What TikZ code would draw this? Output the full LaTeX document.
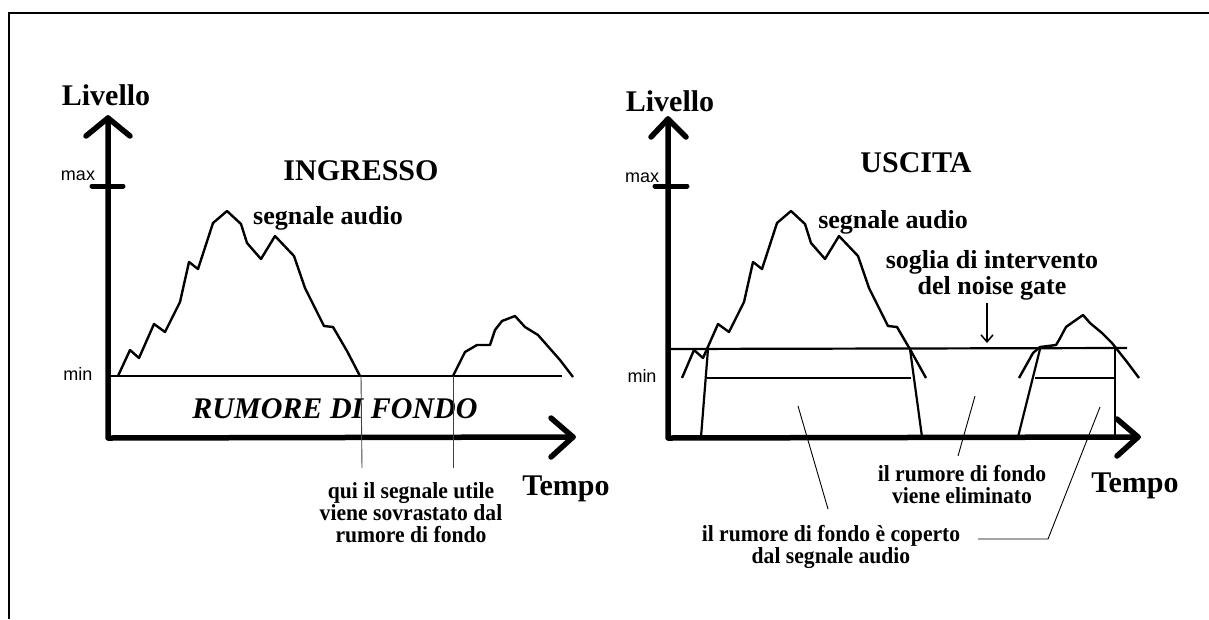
\documentclass[tikz,border=0pt]{standalone}
\usepackage{fontspec}
\setmainfont{Liberation Serif}
\newfontfamily\labsf{Liberation Sans}
\newfontfamily\condserif[FakeStretch=0.94]{Liberation Serif}
\usetikzlibrary{arrows.meta}
\begin{document}
\begin{tikzpicture}[x=1pt,y=-1pt,
  axisline/.style={line width=5.5pt, line cap=round, line join=round},
  tickline/.style={line width=5pt, line cap=round},
  sig/.style={line width=2.4pt, line join=round},
  lvl/.style={line width=2.2pt},
  lead/.style={line width=0.9pt},
  frameline/.style={line width=2.5pt},
  titletxt/.style={inner sep=0pt, anchor=base, font=\fontsize{30}{30}\selectfont\bfseries},
  labtxt/.style={inner sep=0pt, anchor=base, align=center, font=\fontsize{26}{25.5}\selectfont\bfseries},
  notetxt/.style={inner sep=0pt, anchor=base, align=center, font=\condserif\fontsize{23}{22}\selectfont\bfseries},
  scalelab/.style={inner sep=0pt, anchor=base, font=\labsf\fontsize{18}{18}\selectfont}]
\useasboundingbox (0,0) rectangle (1209,619);
% frame
\draw[frameline] (9,619) -- (9,13) -- (1209,13);

% ================= LEFT: INGRESSO =================
\coordinate (LO) at (108,438);
\coordinate (LY) at (108,118);
\coordinate (LX) at (573,437);
\draw[axisline] (LY) -- (LO) -- (LX);
\draw[axisline] (86,136) -- (LY) -- (130,136);
\draw[axisline] (551,418) -- (LX) -- (551,457);
\draw[tickline] (92,186) -- (123,186);
\draw[lvl] (108,376) -- (562,376);
\draw[sig] (118,376) -- (130,350) -- (139,358) -- (154,324) -- (165,332) -- (180,302) -- (189,262) -- (198,269) -- (213,223) -- (227,211) -- (241,224) -- (247,243) -- (261,259) -- (275,236) -- (294,256) -- (305,288) -- (324,326) -- (333,327) -- (347,351) -- (360,376);
\draw[sig] (453,376) -- (465,352) -- (477,345) -- (490,345) -- (495,330) -- (502,321) -- (515,316) -- (525,327) -- (538,335) -- (560,360) -- (573,377);

\node[titletxt] (livL) at (106,105) {Livello};
\node[titletxt] (ingr) at (361,180) {INGRESSO};
\node[labtxt] (segL) at (328,224) {segnale audio};
\node[scalelab] (maxL) at (78,180) {max};
\node[scalelab] (minL) at (78,380) {min};
\node[titletxt, font=\fontsize{30}{30}\selectfont\bfseries\itshape] (rum) at (335,418) {RUMORE DI FONDO};
\node[titletxt] (tempL) at (566,495) {Tempo};
\node[notetxt] (qui) at (411,542) {qui il segnale utile\\viene sovrastato dal\\rumore di fondo};
\coordinate (q1) at (361,376);
\coordinate (q2) at (453,376);
\coordinate (q1e) at (362,468);
\coordinate (q2e) at (453,468);
\draw[lead, black!75] (q1) -- (q1e);
\draw[lead, black!75] (q2) -- (q2e);

% ================= RIGHT: USCITA =================
\coordinate (RO) at (668,438);
\coordinate (RY) at (668,119);
\coordinate (RX) at (1138,437);
\draw[axisline] (RY) -- (RO) -- (RX);
\draw[axisline] (651,137) -- (RY) -- (686,137);
\draw[axisline] (1117,419) -- (RX) -- (1117,456);
\draw[tickline] (655,186) -- (687,186);
% threshold & levels
\draw[lvl] (668,349) -- (1127,348);
\draw[lvl] (707,378) -- (911,378);
\draw[lvl] (1035,378) -- (1115,378);
\draw[lvl] (708,349) -- (701,437);
\draw[lvl] (910,349) -- (922,437);
\draw[lvl] (1040,349) -- (1018,437);
\draw[lvl] (1115,349) -- (1115,437);
% signal
\draw[sig] (682,378) -- (694,350) -- (703,358) -- (718,324) -- (729,332) -- (744,302) -- (753,262) -- (762,269) -- (777,223) -- (791,211) -- (805,224) -- (811,243) -- (825,259) -- (839,236) -- (858,256) -- (869,288) -- (888,326) -- (897,327) -- (911,351) -- (926,378);
\draw[sig] (1019,378) -- (1033,353) -- (1040,347) -- (1056,345) -- (1059,340) -- (1066,327) -- (1073,322) -- (1083,315) -- (1090,323) -- (1102,333) -- (1112,343) -- (1127,362) -- (1139,378);

\node[titletxt] (livR) at (670,111) {Livello};
\node[titletxt] (usc) at (916,172) {USCITA};
\node[labtxt] (segR) at (893,228) {segnale audio};
\node[scalelab] (maxR) at (642,182) {max};
\node[scalelab] (minR) at (642,382) {min};
\node[titletxt] (tempR) at (1135,492) {Tempo};
\node[labtxt] (sog) at (992,294) {soglia di intervento\\del noise gate};
\coordinate (thr) at (987,343);
\draw[line width=1.5pt, -{Straight Barb[length=7pt,width=12pt,line width=1.5pt]}] (987,303) -- (thr);

\node[notetxt] (elim) at (962,503) {il rumore di fondo\\viene eliminato};
\coordinate (elA) at (975,396);
\coordinate (elB) at (958,456);
\draw[lead] (elA) -- (elB);

\node[notetxt] (cop) at (831,563) {il rumore di fondo è coperto\\dal segnale audio};
\coordinate (cvA) at (798,406);
\coordinate (cvB) at (828,509);
\draw[lead] (cvA) -- (cvB);
\coordinate (cvL) at (978,539);
\coordinate (cvK) at (1048,539);
\coordinate (cvT) at (1100,407);
\draw[lead] (cvL) -- (cvK) -- (cvT);
\end{tikzpicture}
\end{document}
